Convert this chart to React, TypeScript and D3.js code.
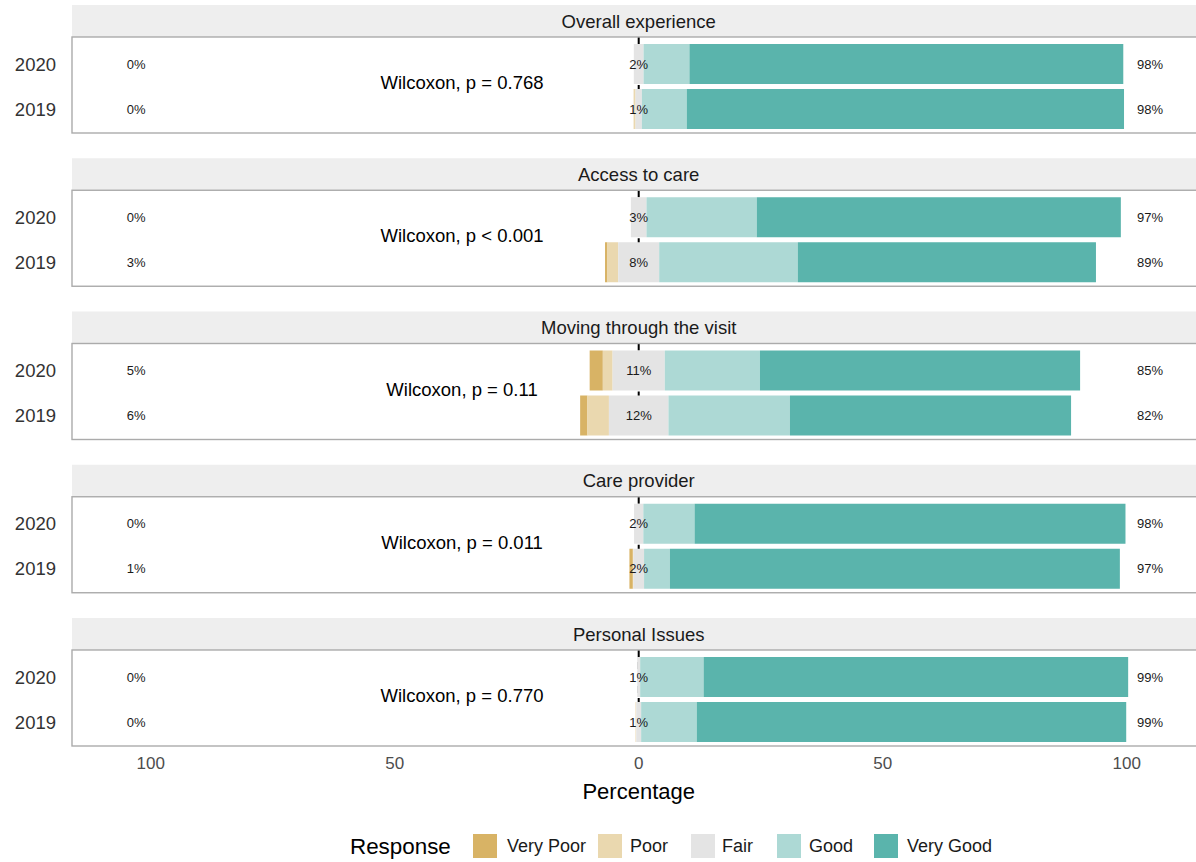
import React from "react";
import * as d3 from "d3";

const categories = [
  "Overall experience",
  "Access to care",
  "Moving through the visit",
  "Care provider",
  "Personal Issues",
];
const years = ["2020", "2019"];
const responses = ["Very Poor", "Poor", "Fair", "Good", "Very Good"];
const responseColors = ["#D8B365", "#EAD8AF", "#E4E4E4", "#ADD9D5", "#5AB4AC"];

// values per category, [2020, 2019]
const veryPoor = [[0, 0], [0, 0.5], [2.7, 1.5], [0, 0.7], [0, 0]];
const poor = [[0, 0.4], [0, 2.2], [2.0, 4.4], [0, 0.1], [0, 0.15]];
const fair = [[2.0, 1.3], [3.2, 8.4], [10.7, 12.2], [1.9, 2.2], [0.6, 1.0]];
const good = [[9.4, 9.2], [22.6, 28.4], [19.5, 24.9], [10.5, 5.3], [13.0, 11.4]];
const veryGood = [[88.9, 89.6], [74.6, 61.1], [65.6, 57.6], [88.3, 92.2], [87.0, 88.0]];

const leftLabels = [["0%", "0%"], ["0%", "3%"], ["5%", "6%"], ["0%", "1%"], ["0%", "0%"]];
const centerLabels = [["2%", "1%"], ["3%", "8%"], ["11%", "12%"], ["2%", "2%"], ["1%", "1%"]];
const rightLabels = [["98%", "98%"], ["97%", "89%"], ["85%", "82%"], ["98%", "97%"], ["99%", "99%"]];
const testLabels = [
  "Wilcoxon, p = 0.768",
  "Wilcoxon, p < 0.001",
  "Wilcoxon, p = 0.11",
  "Wilcoxon, p = 0.011",
  "Wilcoxon, p = 0.770",
];
const xTicks = [-100, -50, 0, 50, 100];

const FONT = "'Liberation Sans', Arial, Helvetica, sans-serif";

export default function App() {
  const W = 1196;
  const H = 862;
  const x = d3.scaleLinear().domain([-100, 100]).range([150.7, 1126.7]);
  const panelLeft = 72;
  const panelRight = 1200;
  const stripH = 32;
  const bodyH = 96;
  const step = 153.25;
  const firstTop = 5;
  const rowOffsets = [27, 72];
  const barH = 40;

  const panels = categories.map((cat, i) => {
    const stripTop = firstTop + i * step;
    const bodyTop = stripTop + stripH;
    const rows = years.map((yr, j) => {
      const cy = bodyTop + rowOffsets[j];
      const vals = [veryPoor[i][j], poor[i][j], fair[i][j], good[i][j], veryGood[i][j]];
      let start = -(vals[0] + vals[1] + vals[2] / 2);
      const segs = vals.map((v, k) => {
        const s = start;
        start += v;
        return { k, x0: s, x1: s + v };
      });
      return { yr, cy, segs, j };
    });
    return { cat, i, stripTop, bodyTop, rows };
  });

  const lastBottom = panels[panels.length - 1].bodyTop + bodyH;

  const legendItems = [
    { label: "Very Poor", kx: 473, tx: 507 },
    { label: "Poor", kx: 598, tx: 630 },
    { label: "Fair", kx: 691, tx: 722 },
    { label: "Good", kx: 777, tx: 809 },
    { label: "Very Good", kx: 874, tx: 907 },
  ];

  return (
    <svg
      width={W}
      height={H}
      style={{ position: "absolute", left: 0, top: 0, background: "#fff" }}
      fontFamily={FONT}
    >
      <rect x={0} y={0} width={W} height={H} fill="#fff" />
      {panels.map((p) => (
        <g key={p.cat}>
          <rect x={panelLeft} y={p.stripTop} width={panelRight - panelLeft} height={stripH} fill="#EEEEEE" />
          <text
            x={x(0)}
            y={p.stripTop + stripH / 2}
            textAnchor="middle"
            dominantBaseline="central"
            fontSize={18.5}
            fill="#1a1a1a"
          >
            {p.cat}
          </text>
          <line
            x1={x(0)}
            x2={x(0)}
            y1={p.bodyTop}
            y2={p.bodyTop + bodyH}
            stroke="#000"
            strokeWidth={2}
            strokeDasharray="7,5"
          />
          {p.rows.map((r) => (
            <g key={r.yr}>
              {r.segs.map((s) =>
                s.x1 - s.x0 > 0 ? (
                  <rect
                    key={s.k}
                    x={x(s.x0)}
                    y={r.cy - barH / 2}
                    width={x(s.x1) - x(s.x0)}
                    height={barH}
                    fill={responseColors[s.k]}
                  />
                ) : null
              )}
              <text x={56} y={r.cy} textAnchor="end" dominantBaseline="central" fontSize={18.5} fill="#333">
                {r.yr}
              </text>
              <text x={x(-103)} y={r.cy} textAnchor="middle" dominantBaseline="central" fontSize={13} fill="#1a1a1a">
                {leftLabels[p.i][r.j]}
              </text>
              <text x={x(0)} y={r.cy} textAnchor="middle" dominantBaseline="central" fontSize={13} fill="#1a1a1a">
                {centerLabels[p.i][r.j]}
              </text>
              <text x={x(104.8)} y={r.cy} textAnchor="middle" dominantBaseline="central" fontSize={13} fill="#1a1a1a">
                {rightLabels[p.i][r.j]}
              </text>
            </g>
          ))}
          <text
            x={x(-36.2)}
            y={p.bodyTop + 45.5}
            textAnchor="middle"
            dominantBaseline="central"
            fontSize={18.5}
            fill="#000"
          >
            {testLabels[p.i]}
          </text>
          <rect
            x={panelLeft}
            y={p.bodyTop}
            width={panelRight - panelLeft}
            height={bodyH}
            fill="none"
            stroke="#ABABAB"
            strokeWidth={1.4}
          />
        </g>
      ))}
      {xTicks.map((t) => (
        <text
          key={t}
          x={x(t)}
          y={lastBottom + 17}
          textAnchor="middle"
          dominantBaseline="central"
          fontSize={17}
          fill="#4D4D4D"
        >
          {Math.abs(t)}
        </text>
      ))}
      <text x={x(0)} y={lastBottom + 45} textAnchor="middle" dominantBaseline="central" fontSize={22} fill="#000">
        Percentage
      </text>
      <text x={350} y={846} dominantBaseline="central" fontSize={22.4} fill="#000">
        Response
      </text>
      {legendItems.map((it, k) => (
        <g key={it.label}>
          <rect x={it.kx} y={834} width={24} height={24} fill={responseColors[k]} />
          <text x={it.tx} y={846} dominantBaseline="central" fontSize={18} fill="#1a1a1a">
            {responses[k]}
          </text>
        </g>
      ))}
    </svg>
  );
}
